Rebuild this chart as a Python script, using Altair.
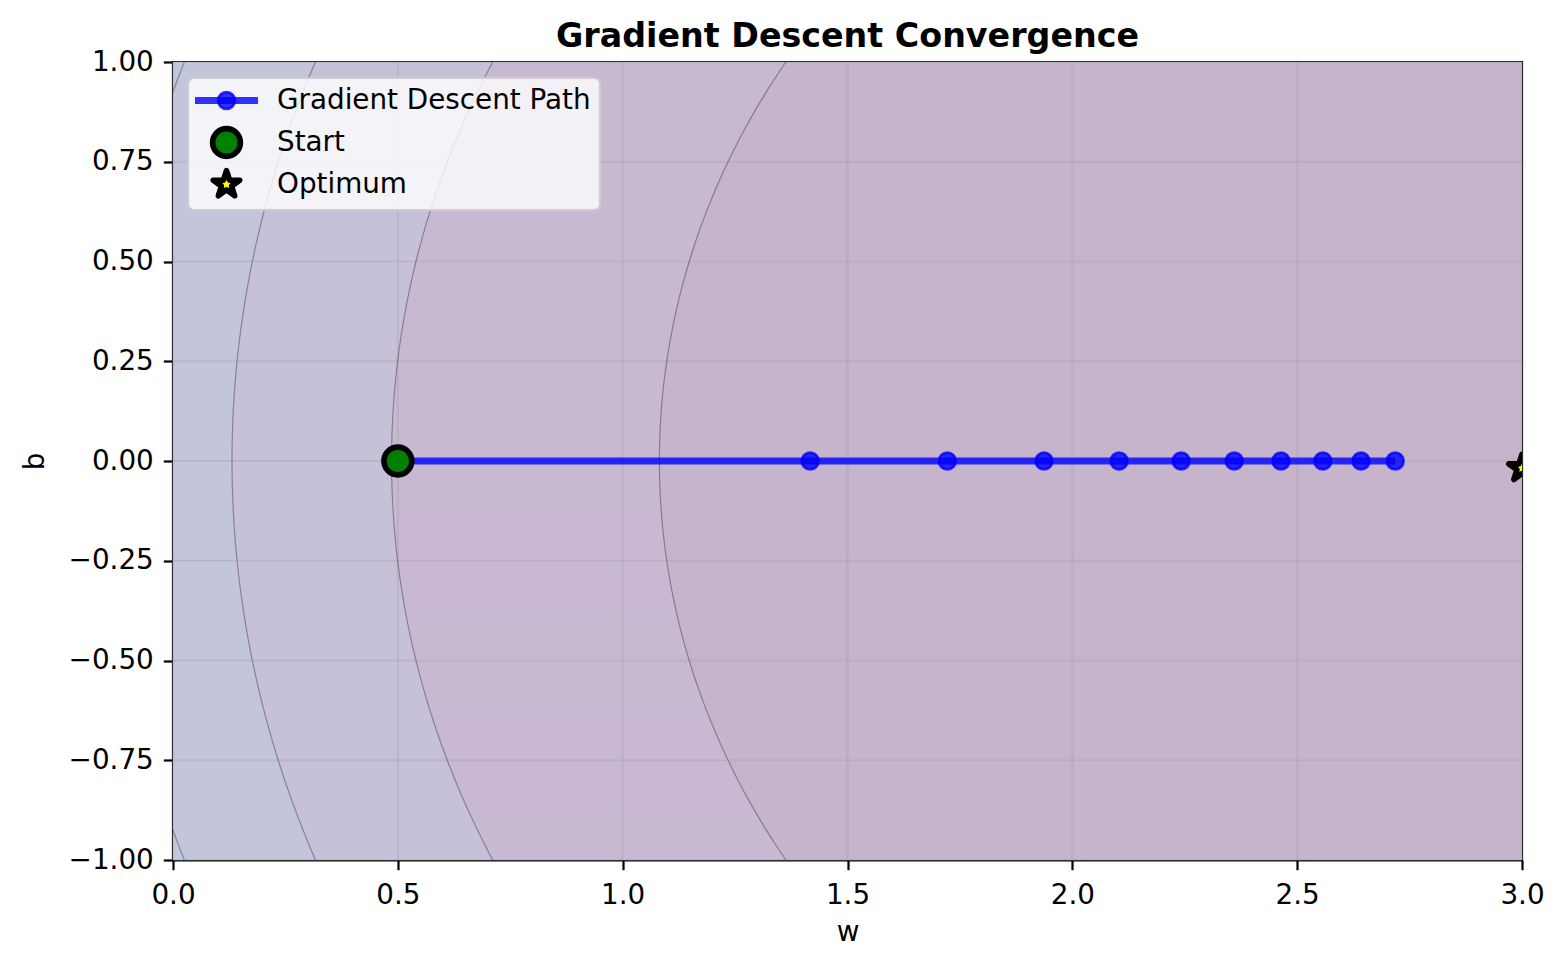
import altair as alt
import numpy as np
import pandas as pd

# ---- data ----
path_w = [0.5, 1.417, 1.722, 1.937, 2.104, 2.242, 2.360, 2.464, 2.557, 2.642, 2.718]
path_b = [0.0, 0.0, 0.0, 0.0, 0.0, 0.0, 0.0, 0.0, 0.0, 0.0, 0.0]

start_w = [0.5]
start_b = [0.0]

opt_w = [3.0]
opt_b = [-0.018]

# loss surface: L = (w - cw)^2 + k (b - cb)^2, contour levels
loss_center_w = 3.0
loss_center_b = 0.0
contour_levels = [9.90, 8.23, 6.32, 3.68]
contour_b_weights = [1.05, 1.03, 1.08, 1.0]
# fill colour beyond the outermost level, then inside each successive level
band_colors = ["#c0cadd", "#c3c5da", "#c6c0d8", "#c8b9d3", "#c6b4cc"]

x_ticks = [0.0, 0.5, 1.0, 1.5, 2.0, 2.5, 3.0]
y_ticks = [-1.0, -0.75, -0.5, -0.25, 0.0, 0.25, 0.5, 0.75, 1.0]
x_limits = [0.0, 3.0]
y_limits = [-1.0, 1.0]

legend_labels = ["Gradient Descent Path", "Start", "Optimum"]

# ---- layout / style ----
W, H = 1349, 798
FS = 27.8
FONT = "DejaVu Sans"

xs = alt.Scale(domain=x_limits, nice=False, zero=False)
ys = alt.Scale(domain=y_limits, nice=False, zero=False)

# horizontal slices used to paint the filled contour bands
n_rows = 400
step = (y_limits[1] - y_limits[0]) / n_rows
b_lo = y_limits[0] + step * np.arange(n_rows)
b_mid = b_lo + step / 2


def boundary(level, k, b):
    arg = level - k * (b - loss_center_b) ** 2
    return loss_center_w - np.sqrt(np.clip(arg, 0, None))


band_frames = []
for i, (lev, k) in enumerate(zip(contour_levels, contour_b_weights)):
    band_frames.append(pd.DataFrame({
        "level": i,
        "w": np.maximum(boundary(lev, k, b_mid), x_limits[0]),
        "w2": x_limits[1],
        "b": b_lo,
        "b2": np.minimum(b_lo + 1.6 * step, y_limits[1]),
    }))
bands = pd.concat(band_frames, ignore_index=True)

b_line = np.linspace(y_limits[0], y_limits[1], 401)
line_frames = []
for i, (lev, k) in enumerate(zip(contour_levels, contour_b_weights)):
    line_frames.append(pd.DataFrame({"level": i, "b": b_line, "w": boundary(lev, k, b_line)}))
contour_lines = pd.concat(line_frames, ignore_index=True)

box = pd.DataFrame({"w": [x_limits[0]], "w2": [x_limits[1]], "b": [y_limits[0]], "b2": [y_limits[1]]})

layers = []
# outermost band (whole view) - carries the axes
layers.append(
    alt.Chart(box).mark_rect(color=band_colors[0]).encode(
        x=alt.X("w:Q", scale=xs, title="w",
                axis=alt.Axis(values=x_ticks, format=".1f", labelPadding=12, titlePadding=9)),
        x2="w2:Q",
        y=alt.Y("b:Q", scale=ys, title="b",
                axis=alt.Axis(values=y_ticks, format=".2f", labelPadding=10, titlePadding=19)),
        y2="b2:Q")
)
for i in range(len(contour_levels)):
    layers.append(
        alt.Chart(bands[bands.level == i]).mark_rect(color=band_colors[i + 1], clip=True).encode(
            x=alt.X("w:Q", scale=xs), x2="w2:Q",
            y=alt.Y("b:Q", scale=ys), y2="b2:Q")
    )

# grid lines
layers.append(
    alt.Chart(pd.DataFrame({"t": x_ticks})).mark_rule(color="#a0a0a0", opacity=0.3, strokeWidth=2.2).encode(
        x=alt.X("t:Q", scale=xs))
)
layers.append(
    alt.Chart(pd.DataFrame({"t": y_ticks})).mark_rule(color="#a0a0a0", opacity=0.3, strokeWidth=2.2).encode(
        y=alt.Y("t:Q", scale=ys))
)

# contour lines
layers.append(
    alt.Chart(contour_lines).mark_line(color="black", opacity=0.32, strokeWidth=1.2, clip=True).encode(
        x=alt.X("w:Q", scale=xs), y=alt.Y("b:Q", scale=ys), detail="level:N", order="b:Q")
)

path = pd.DataFrame({"w": path_w, "b": path_b})
layers.append(
    alt.Chart(path).mark_line(color="#0000ff", opacity=0.8, strokeWidth=6.9).encode(
        x=alt.X("w:Q", scale=xs), y=alt.Y("b:Q", scale=ys))
)
layers.append(
    alt.Chart(path).mark_circle(size=279, color="#0000ff", fillOpacity=0.8, stroke="#0000ff",
                                strokeWidth=2.8, strokeOpacity=0.8, opacity=1).encode(
        x=alt.X("w:Q", scale=xs), y=alt.Y("b:Q", scale=ys))
)
layers.append(
    alt.Chart(pd.DataFrame({"w": start_w, "b": start_b})).mark_circle(
        size=773, fill="#008000", stroke="black", strokeWidth=5.6, opacity=1).encode(
        x=alt.X("w:Q", scale=xs), y=alt.Y("b:Q", scale=ys))
)

# star shape (outer radius 1, inner radius 0.382)
ang = -np.pi / 2 + np.arange(10) * np.pi / 5
rad = np.where(np.arange(10) % 2 == 0, 1.0, 0.382)
STAR = "M" + "L".join(f"{r*np.cos(a):.4f},{r*np.sin(a):.4f}" for r, a in zip(rad, ang)) + "Z"

layers.append(
    alt.Chart(pd.DataFrame({"w": opt_w, "b": opt_b})).mark_point(
        shape=STAR, size=773, filled=True, fill="yellow", stroke="black", strokeWidth=5.6,
        strokeJoin="round", opacity=1, clip=True).encode(
        x=alt.X("w:Q", scale=xs), y=alt.Y("b:Q", scale=ys))
)

# ---- legend (drawn in pixel space inside the plot) ----
one = pd.DataFrame({"k": [0]})
LX0, LX1, LY0, LY1 = 15, 427, 16, 148
rows = [38.5, 80.5, 122.5]
sym_x = 53.5
layers.append(
    alt.Chart(one).mark_rect(fill="white", fillOpacity=0.8, stroke="#cccccc", strokeWidth=2.2,
                             cornerRadius=6).encode(
        x=alt.value(LX0), x2=alt.value(LX1), y=alt.value(LY0), y2=alt.value(LY1))
)
layers.append(
    alt.Chart(one).mark_rule(color="#0000ff", opacity=0.8, strokeWidth=6.9).encode(
        x=alt.value(22), x2=alt.value(85), y=alt.value(rows[0]))
)
layers.append(
    alt.Chart(one).mark_circle(size=279, color="#0000ff", fillOpacity=0.8, stroke="#0000ff",
                               strokeWidth=2.8, strokeOpacity=0.8, opacity=1).encode(
        x=alt.value(sym_x), y=alt.value(rows[0]))
)
layers.append(
    alt.Chart(one).mark_circle(size=773, fill="#008000", stroke="black", strokeWidth=5.6, opacity=1).encode(
        x=alt.value(sym_x), y=alt.value(rows[1]))
)
layers.append(
    alt.Chart(one).mark_point(shape=STAR, size=773, filled=True, fill="yellow", stroke="black",
                              strokeWidth=5.6, strokeJoin="round", opacity=1).encode(
        x=alt.value(sym_x), y=alt.value(rows[2]))
)
for lab, ry in zip(legend_labels, rows):
    layers.append(
        alt.Chart(one).mark_text(text=lab, align="left", baseline="middle", font=FONT,
                                 fontSize=FS, color="black").encode(
            x=alt.value(104), y=alt.value(ry))
    )

chart = alt.layer(*layers).properties(
    width=W, height=H,
    title=alt.TitleParams("Gradient Descent Convergence", font=FONT, fontSize=33.3,
                          fontWeight="bold", color="black", anchor="middle", offset=3,
                          baseline="alphabetic", dy=35),
    autosize=alt.AutoSizeParams(type="none"),
    padding={"left": 165, "top": 54, "right": 36, "bottom": 100},
).configure_view(
    stroke="black", strokeWidth=2.2
).configure_axis(
    grid=False, domain=True, domainColor="black", domainWidth=2.2,
    ticks=True, tickColor="black", tickWidth=2.2, tickSize=9.7,
    labelFont=FONT, labelFontSize=FS, labelColor="black",
    labelFlush=False, labelOverlap=False,
    titleFont=FONT, titleFontSize=FS, titleFontWeight="normal", titleColor="black",
    zindex=1,
)

chart.save("out.html", embed_options={"renderer": "svg", "actions": False})
